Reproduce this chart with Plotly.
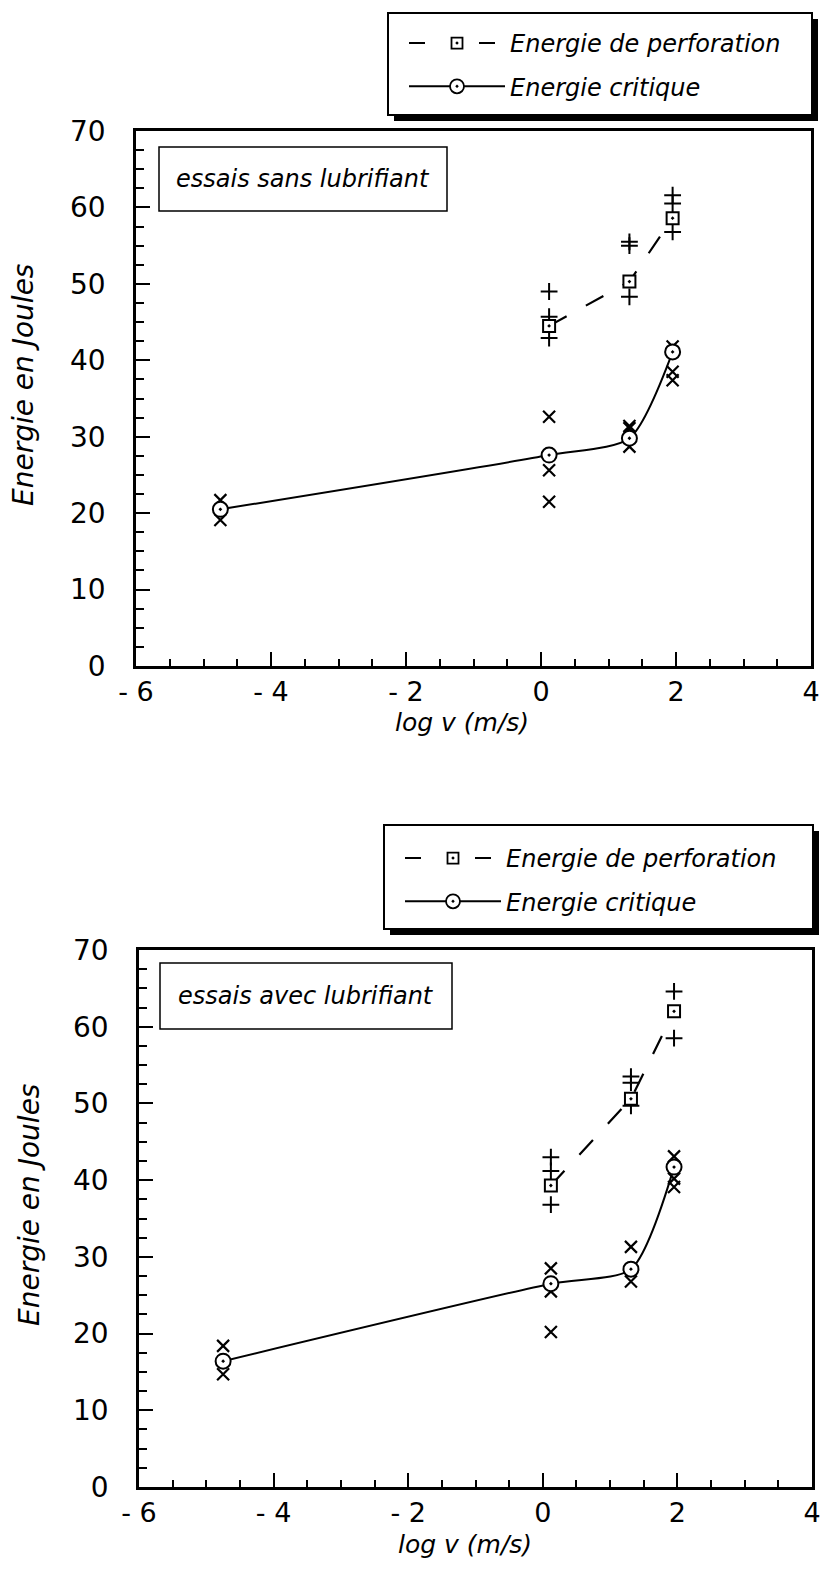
import plotly.graph_objects as go

# the page body has an 8px default margin; the figure is sized to fit the 832x1570 window
OFF = 8
W, H = 832 - OFF, 1570 - OFF
FONT = "DejaVu Sans"

# ---------------- data ----------------
x_tickvals = [-6, -4, -2, 0, 2, 4]
x_ticktext = ["- 6", "- 4", "- 2", "0", "2", "4"]

logv = [-4.75, 0.12, 1.31, 1.95]
logv_perf = [0.12, 1.31, 1.95]

# essais sans lubrifiant
crit_sans = [20.5, 27.6, 29.8, 41.1]
perf_sans = [44.5, 50.3, 58.6]
plus_x_sans = [0.12, 0.12, 0.12, 1.31, 1.31, 1.31, 1.95, 1.95, 1.95]
plus_y_sans = [49.0, 45.7, 42.9, 55.5, 55.0, 48.3, 61.6, 60.5, 56.8]
cross_x_sans = [-4.75, -4.75, 0.12, 0.12, 0.12, 1.31, 1.31, 1.31, 1.95, 1.95, 1.95]
cross_y_sans = [21.7, 19.1, 32.6, 25.6, 21.5, 31.4, 31.1, 28.7, 41.8, 38.5, 37.4]

# essais avec lubrifiant
crit_avec = [16.4, 26.5, 28.4, 41.7]
perf_avec = [39.3, 50.6, 62.0]
plus_x_avec = [0.12, 0.12, 0.12, 1.31, 1.31, 1.31, 1.95, 1.95]
plus_y_avec = [43.0, 41.2, 36.8, 53.5, 52.7, 49.7, 64.6, 58.5]
cross_x_avec = [-4.75, -4.75, 0.12, 0.12, 0.12, 1.31, 1.31, 1.95, 1.95, 1.95]
cross_y_avec = [18.4, 14.7, 28.5, 25.5, 20.2, 31.3, 26.8, 43.1, 40.2, 39.1]

labels = ["essais sans lubrifiant", "essais avec lubrifiant"]

# ---------------- figure ----------------
fig = go.Figure()

def add_panel(xa, ya, crit, perf, px_, py_, cx_, cy_):
    fig.add_trace(go.Scatter(x=px_, y=py_, mode="markers", xaxis=xa, yaxis=ya, showlegend=False,
                             marker=dict(symbol="cross-thin", size=12, line=dict(width=2, color="black"))))
    fig.add_trace(go.Scatter(x=cx_, y=cy_, mode="markers", xaxis=xa, yaxis=ya, showlegend=False,
                             marker=dict(symbol="x-thin", size=12, line=dict(width=2.2, color="black"))))
    fig.add_trace(go.Scatter(x=logv_perf, y=perf, mode="lines+markers", xaxis=xa, yaxis=ya, showlegend=False,
                             line=dict(color="black", width=2.2, dash="20px,22px"),
                             marker=dict(symbol="square-dot", size=12, color="white",
                                         line=dict(width=2, color="black"))))
    fig.add_trace(go.Scatter(x=logv, y=crit, mode="lines+markers", xaxis=xa, yaxis=ya, showlegend=False,
                             line=dict(color="black", width=2, shape="spline", smoothing=0.7),
                             marker=dict(symbol="circle-dot", size=15, color="white",
                                         line=dict(width=2, color="black"))))

add_panel("x", "y", crit_sans, perf_sans, plus_x_sans, plus_y_sans, cross_x_sans, cross_y_sans)
add_panel("x2", "y2", crit_avec, perf_avec, plus_x_avec, plus_y_avec, cross_x_avec, cross_y_avec)

# legend-only traces
for lg in ["legend", "legend2"]:
    fig.add_trace(go.Scatter(x=[None], y=[None], mode="lines+markers", name="Energie de perforation",
                             legend=lg, legendgroup=lg + "a",
                             line=dict(color="black", width=2, dash="16px,54px"),
                             marker=dict(symbol="square-dot", size=11, color="white",
                                         line=dict(width=1.8, color="black"))))
    fig.add_trace(go.Scatter(x=[None], y=[None], mode="lines+markers", name="Energie critique",
                             legend=lg, legendgroup=lg + "b",
                             line=dict(color="black", width=2),
                             marker=dict(symbol="circle-dot", size=14, color="white",
                                         line=dict(width=1.8, color="black"))))

def xax(dom):
    return dict(domain=dom, range=[-6, 4], tickvals=x_tickvals, ticktext=x_ticktext,
                ticks="inside", ticklen=14, tickwidth=2, tickcolor="black",
                minor=dict(dtick=0.5, tick0=0, ticks="inside", ticklen=7, tickwidth=1.5, tickcolor="black"),
                showline=True, linecolor="black", linewidth=2.5, mirror=True,
                showgrid=False, zeroline=False, ticklabelstandoff=0, automargin=False,
                tickfont=dict(family=FONT, size=27, color="black"))

def yax(dom, anchor):
    return dict(domain=dom, range=[0, 70], dtick=10, tick0=0, anchor=anchor,
                ticks="inside", ticklen=14, tickwidth=2, tickcolor="black",
                minor=dict(dtick=2.5, tick0=0, ticks="inside", ticklen=8, tickwidth=1.5, tickcolor="black"),
                showline=True, linecolor="black", linewidth=2.5, mirror=True,
                showgrid=False, zeroline=False, ticklabelstandoff=22, automargin=False,
                tickfont=dict(family=FONT, size=28, color="black"))

# screen pixel -> paper fraction
def X(p): return (p - OFF) / W
def Y(p): return 1 - (p - OFF) / H

shapes = []
annotations = []

def boxed_legend(x0, y0, x1, y1):
    shapes.append(dict(type="rect", xref="paper", yref="paper", x0=X(x0 + 6), x1=X(x1 + 6),
                       y0=Y(y1 + 6), y1=Y(y0 + 6), fillcolor="black", line=dict(width=0), layer="above"))
    shapes.append(dict(type="rect", xref="paper", yref="paper", x0=X(x0), x1=X(x1),
                       y0=Y(y1), y1=Y(y0), fillcolor="white", line=dict(width=2, color="black"), layer="above"))

def label_box(x0, y0, x1, y1, text):
    shapes.append(dict(type="rect", xref="paper", yref="paper", x0=X(x0), x1=X(x1),
                       y0=Y(y1), y1=Y(y0), fillcolor="white", line=dict(width=1.5, color="black"), layer="above"))
    annotations.append(dict(xref="paper", yref="paper", x=X((x0 + x1) / 2), y=Y((y0 + y1) / 2),
                            text=text, showarrow=False, xanchor="center", yanchor="middle",
                            font=dict(family=FONT, size=24, style="italic", color="black")))

boxed_legend(388, 13, 812, 115)
boxed_legend(384, 825, 813, 929)
label_box(159, 147, 447, 211, labels[0])
label_box(160, 963, 452, 1029, labels[1])

def title(x, y, text, size, angle=0):
    annotations.append(dict(xref="paper", yref="paper", x=X(x), y=Y(y), text=text, showarrow=False,
                            xanchor="center", yanchor="middle", textangle=angle,
                            font=dict(family=FONT, size=size, style="italic", color="black")))

title(462, 722, "log v (m/s)", 25)
title(465, 1544, "log v (m/s)", 25)
title(23, 385, "Energie en Joules", 28, -90)
title(29, 1205, "Energie en Joules", 28, -90)

legend_style = dict(font=dict(family=FONT, size=24, style="italic", color="black"),
                    bgcolor="rgba(0,0,0,0)", borderwidth=0, itemwidth=96,
                    traceorder="grouped", tracegroupgap=9, xanchor="left", yanchor="top")

fig.update_layout(
    width=W, height=H, margin=dict(l=0, r=0, t=0, b=0, autoexpand=False),
    paper_bgcolor="white", plot_bgcolor="white",
    xaxis=dict(**xax([X(136), X(811)]), anchor="y"),
    yaxis=yax([Y(666), Y(131)], "x"),
    xaxis2=dict(**xax([X(139), X(812)]), anchor="y2"),
    yaxis2=yax([Y(1487), Y(950)], "x2"),
    legend=dict(**legend_style, x=X(404), y=Y(21)),
    legend2=dict(**legend_style, x=X(400), y=Y(836)),
    shapes=shapes, annotations=annotations,
    font=dict(family=FONT, color="black"),
)

fig.write_html("out.html")
